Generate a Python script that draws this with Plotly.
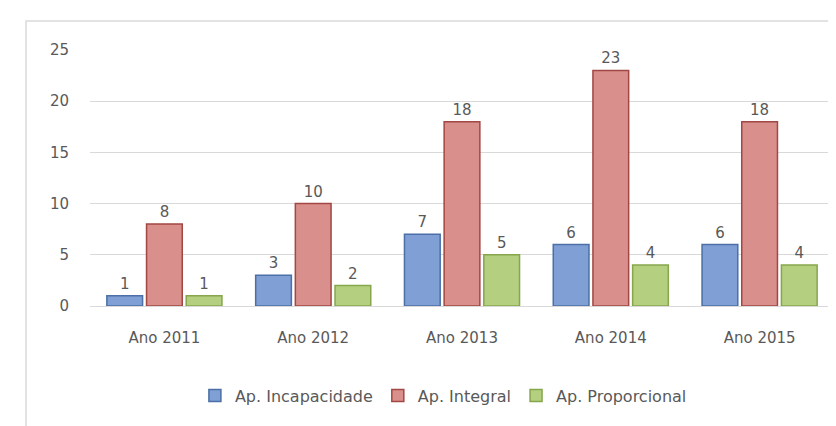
import plotly.graph_objects as go

anos = ["Ano 2011", "Ano 2012", "Ano 2013", "Ano 2014", "Ano 2015"]
incapacidade = [1, 3, 7, 6, 6]
integral = [8, 10, 18, 23, 18]
proporcional = [1, 2, 5, 4, 4]

series = [
    ("Ap. Incapacidade", incapacidade, "#7f9fd5", "#4b6fa6"),
    ("Ap. Integral", integral, "#d98f8c", "#a24744"),
    ("Ap. Proporcional", proporcional, "#b3cf7f", "#86a64c"),
]

fig = go.Figure()
for nome, valores, cor, borda in series:
    fig.add_trace(go.Bar(
        x=anos,
        y=valores,
        name=nome,
        text=valores,
        textposition="outside",
        textfont=dict(color="#595959", size=15),
        marker=dict(color=cor, line=dict(color=borda, width=1.5)),
        cliponaxis=False,
    ))

fig.update_layout(
    width=836,
    height=426,
    margin=dict(l=82, r=10, t=42, b=128),
    paper_bgcolor="white",
    plot_bgcolor="white",
    font=dict(family="DejaVu Sans, sans-serif", size=15, color="#595959"),
    barmode="group",
    bargap=0.2,
    bargroupgap=0.1,
    showlegend=True,
    legend=dict(
        orientation="h",
        x=0.475,
        xanchor="center",
        y=-0.35,
        yanchor="middle",
        font=dict(size=16, color="#595959"),
    ),
    xaxis=dict(
        showgrid=False,
        showline=True,
        linecolor="#d9d9d9",
        ticks="",
        ticklabelstandoff=18,
    ),
    yaxis=dict(
        range=[0, 25],
        dtick=5,
        showgrid=True,
        gridcolor="#d9d9d9",
        zeroline=False,
        ticks="",
        ticklabelstandoff=20,
    ),
    shapes=[dict(
        type="rect",
        xref="paper",
        yref="paper",
        x0=-0.086,
        x1=1.011,
        y0=-0.48,
        y1=1.113,
        line=dict(color="#d9d9d9", width=1.5),
    )],
)

fig.write_html("out.html")
